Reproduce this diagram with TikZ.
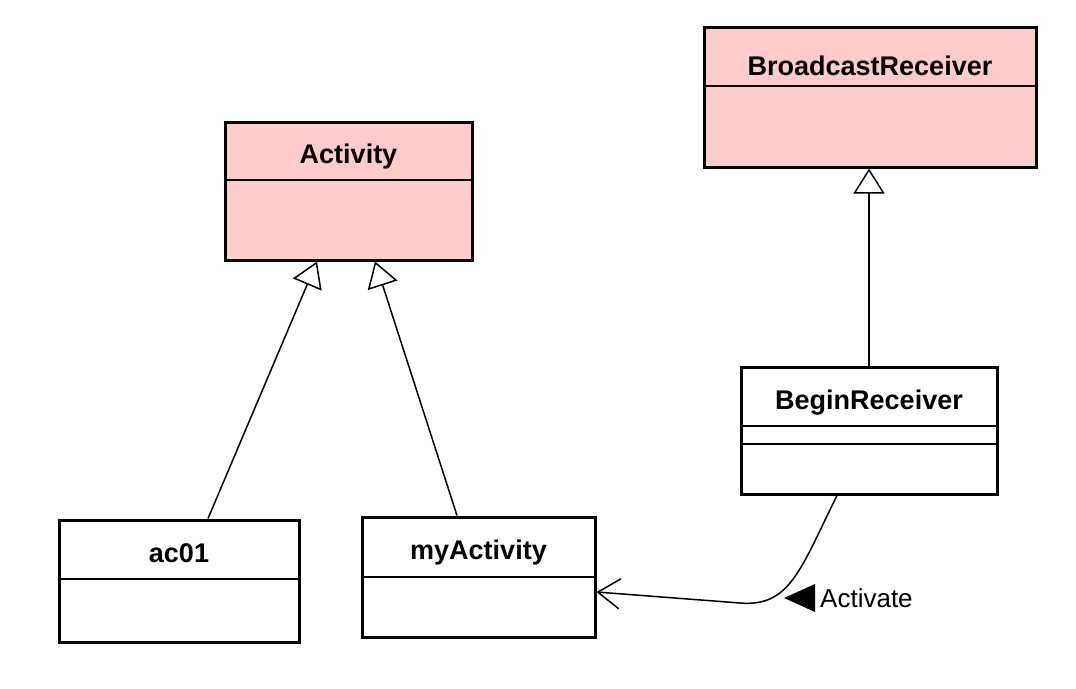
\documentclass[tikz,border=0pt]{standalone}
\usepackage{fontspec}
\setmainfont{Liberation Sans}
\usepackage{xcolor}
\definecolor{classpink}{RGB}{255,204,204}
\usetikzlibrary{arrows.meta,positioning}

\begin{document}
\begin{tikzpicture}[x=1pt,y=-1pt,
		class node/.style={rectangle,draw,line width=3pt,inner sep=0pt},
		abstract node/.style={class node,fill=classpink},
		name node/.style={inner sep=0pt,anchor=base,font=\fontsize{27}{30}\selectfont\bfseries},
		sep line/.style={line width=1.5pt},
		gen/.style={line width=1.5pt,-{Triangle[open,length=25pt,width=31pt,line width=1.5pt]}},
		dep/.style={line width=1.5pt,-{Straight Barb[length=22pt,width=30pt,line width=1.5pt]}}]
		
		\useasboundingbox (0,0) rectangle (1076,688);
		
		% classes
		\node[abstract node,minimum width=247pt,minimum height=138pt] (act) at (348.5,191) {};
		\node[name node] (actname) at ([yshift=-42.5pt]act.north) {Activity};
		\draw[sep line] ([yshift=-59.5pt]act.north west) -- ([yshift=-59.5pt]act.north east);
		
		\node[abstract node,minimum width=332pt,minimum height=140pt] (bc) at (870,97) {};
		\node[name node] (bcname) at ([yshift=-49.5pt]bc.north) {BroadcastReceiver};
		\draw[sep line] ([yshift=-60.5pt]bc.north west) -- ([yshift=-60.5pt]bc.north east);
		
		\node[class node,minimum width=256pt,minimum height=127pt] (begin) at (869,430.5) {};
		\node[name node] (beginname) at ([yshift=-43.5pt]begin.north) {BeginReceiver};
		\draw[sep line] ([yshift=-60.5pt]begin.north west) -- ([yshift=-60.5pt]begin.north east);
		\draw[sep line] ([yshift=-78.5pt]begin.north west) -- ([yshift=-78.5pt]begin.north east);
		
		\node[class node,minimum width=240pt,minimum height=122pt] (ac01) at (179,581) {};
		\node[name node] (ac01name) at ([yshift=-43.5pt]ac01.north) {ac01};
		\draw[sep line] ([yshift=-60.5pt]ac01.north west) -- ([yshift=-60.5pt]ac01.north east);
		
		\node[class node,minimum width=233pt,minimum height=120pt] (myact) at (478.5,577) {};
		\node[name node] (myactname) at ([yshift=-43.5pt]myact.north) {myActivity};
		\draw[sep line] ([yshift=-61.5pt]myact.north west) -- ([yshift=-61.5pt]myact.north east);
		
		% generalizations
		\draw[gen] ([xshift=29pt]ac01.north) -- ([xshift=-31.5pt]act.south);
		\draw[gen] ([xshift=-21.5pt]myact.north) -- ([xshift=26.5pt]act.south);
		\draw[gen] (begin.north) -- (begin.north |- bc.south);
		
		% dependency
		\draw[dep] ([xshift=-32pt]begin.south) .. controls (800,570) and (790,607) .. (740,603)
			-- ([yshift=-15pt]myact.east);
		\node[inner sep=0pt,anchor=west,font=\fontsize{26}{28}\selectfont] (lbl) at (820,598) {Activate};
		\fill ([xshift=-5pt]lbl.west) -- ++(0,-14) -- ++(-31,14) -- ++(31,14) -- cycle;
		
	\end{tikzpicture}
\end{document}
